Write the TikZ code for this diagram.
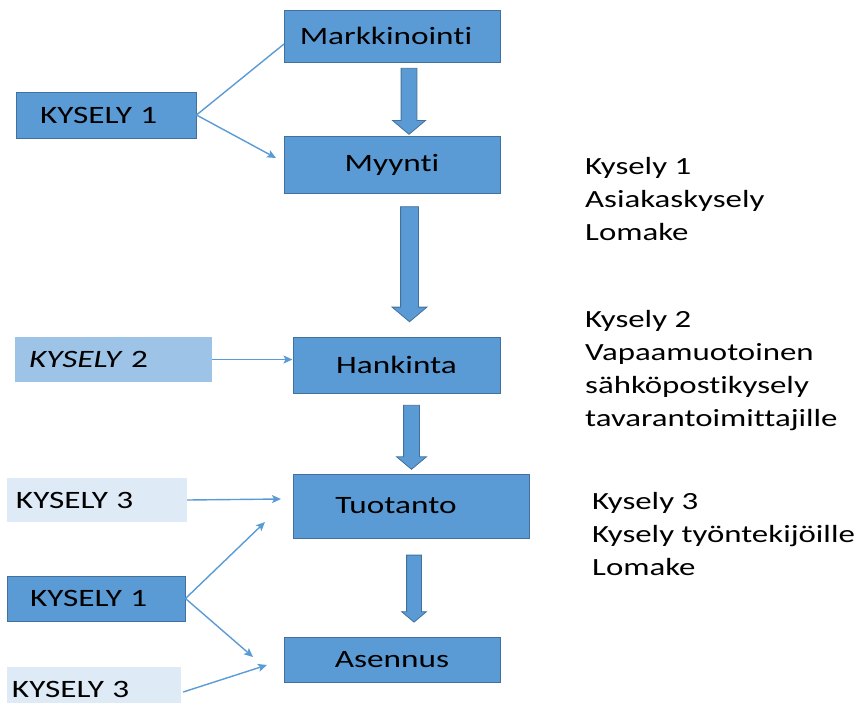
\documentclass[tikz,border=0pt]{standalone}
\usepackage{fontspec}
\setmainfont[FakeStretch=1.33, Ligatures=NoCommon]{Carlito}
\usetikzlibrary{arrows.meta}
\usetikzlibrary{shapes.arrows}
\definecolor{boxblue}{HTML}{5B9BD5}
\definecolor{boxedge}{HTML}{41719C}
\definecolor{paleblue}{HTML}{9DC3E6}
\definecolor{mistblue}{HTML}{DEEBF7}
\definecolor{linkblue}{HTML}{5B9BD5}

\begin{document}
\begin{tikzpicture}[x=1pt, y=-1pt,
    phase/.style={draw=boxedge, line width=1pt, fill=boxblue, inner sep=0pt,
      font=\fontsize{25}{30}\selectfont},
    survey/.style={inner ysep=0pt, align=left, font=\fontsize{25}{30}\selectfont},
    flow/.style={single arrow, draw=boxedge, line width=0.8pt, fill=boxblue,
      inner xsep=0pt, single arrow tip angle=100, rotate=-90},
    note/.style={align=left, inner sep=0pt, anchor=north west,
      font=\fontsize{24.7}{33}\selectfont},
    link/.style={draw=linkblue, line width=1.4pt},
    linkarr/.style={link, -{Stealth[length=9pt, width=8pt, inset=2pt]}}]
    \useasboundingbox (0,0) rectangle (856,702);
    \begin{scope}
    \clip (0,0) rectangle (856,702);
    %% phases
    \node[phase, minimum width=216pt, minimum height=52pt] (mark) at (392,36) {Markkinointi\hspace*{12pt}};
    \node[phase, minimum width=216pt, minimum height=57pt] (myyn) at (392,164.5) {Myynti};
    \node[phase, minimum width=207pt, minimum height=56pt] (hank) at (396.5,365) {Hankinta};
    \node[phase, minimum width=236pt, minimum height=64pt] (tuot) at (411,506) {Tuotanto\hspace*{30pt}};
    \node[phase, minimum width=216pt, minimum height=45pt] (asen) at (392,659.5) {Asennus};
    %% -- block arrows between the phases
    \node[flow, minimum height=66pt, inner ysep=7.5pt, single arrow head extend=8.5pt] (f1) at (409,98) {};
    \node[flow, minimum height=115pt, inner ysep=8.5pt, single arrow head extend=8.5pt] (f2) at (409.5,260.5) {};
    \node[flow, minimum height=64pt, inner ysep=7.5pt, single arrow head extend=7pt] (f3) at (411.5,434) {};
    \node[flow, minimum height=67pt, inner ysep=7pt, single arrow head extend=5pt] (f4) at (414,585.5) {};
    %% surveys
    \node[survey, draw=boxedge, line width=1pt, fill=boxblue, minimum width=180pt, minimum height=46pt,
      inner xsep=24pt, text width=132pt] (k1a) at (106,115) {KYSELY 1};
    \node[survey, fill=paleblue, minimum width=197pt, minimum height=45pt,
      inner xsep=14pt, text width=169pt] (k2) at (113.5,359.5) {\textit{KYSELY} 2};
    \node[survey, fill=mistblue, minimum width=180pt, minimum height=44pt,
      inner xsep=9pt, text width=162pt] (k3a) at (97,500) {KYSELY 3};
    \node[survey, draw=boxedge, line width=1pt, fill=boxblue, minimum width=178pt, minimum height=45pt,
      inner xsep=23pt, text width=132pt] (k1b) at (96,598.5) {KYSELY 1};
    \node[survey, fill=mistblue, minimum width=174pt, minimum height=44pt,
      inner xsep=5pt, text width=164pt] (k3b) at (94,689) {KYSELY 3};
    %% -- free ends of the links
    \coordinate (m1) at (284,44);
    \coordinate (m2) at (276,158);
    \coordinate (t1) at (281,499);
    \coordinate (t2) at (265,522);
    \coordinate (s1) at (253,657);
    \coordinate (s2) at (267,665);
    %% -- links
    \draw[link] (k1a.east) -- (m1);
    \draw[linkarr] (k1a.east) -- (m2);
    \draw[linkarr] (k2.east) -- (k2.east -| hank.west);
    \draw[linkarr] (k3a.east) -- (t1);
    \draw[linkarr] (k1b.east) -- (t2);
    \draw[linkarr] (k1b.east) -- (s1);
    \draw[linkarr] (k3b.east) ++(2,3) -- (s2);
    %% notes
    \node[note] (n1) at (585,157.5) {Kysely 1\\Asiakaskysely\\Lomake};
    \node[note] (n2) at (585,310.5) {Kysely 2\\Vapaamuotoinen\\sähköpostikysely\\tavarantoimittajille};
    \node[note] (n3) at (592,492.5) {Kysely 3\\Kysely työntekijöille\\Lomake};
    \end{scope}
\end{tikzpicture}
\end{document}
